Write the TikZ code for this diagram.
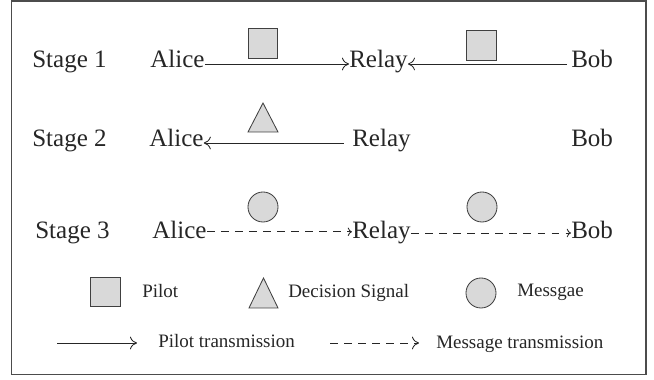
\documentclass[tikz,border=0pt]{standalone}
\usepackage{fontspec}
\setmainfont{Liberation Serif}
\usetikzlibrary{arrows.meta}
\begin{document}
\begin{tikzpicture}[x=0.025cm, y=-0.025cm,
    lbl/.style={anchor=base west, inner sep=0pt, text=black!85,
                font=\fontsize{17.8}{20}\selectfont},
    key/.style={anchor=base west, inner sep=0pt, text=black!85,
                font=\fontsize{13.5}{16}\selectfont},
    shp/.style={draw=black!75, fill=black!15, line width=0.6pt},
    link/.style={black!85, line width=0.6pt, -{To[length=5pt, width=9pt]}},
    msglink/.style={link, dash pattern=on 5.5pt off 4.5pt},
    smalltip/.style={-{To[length=3pt, width=6pt]}}]
      \useasboundingbox (0,0) rectangle (654,380);
      % Moldura
      \draw[black!70, line width=0.9pt] (11.5,1) rectangle (646,374.5);

      % Etapa 1
      \node[lbl] (stage1) at (32,68)  {Stage 1};
      \node[lbl] (alice1) at (150,68) {Alice};
      \node[lbl] (relay1) at (349,68) {Relay};
      \node[lbl] (bob1)   at (571,68) {Bob};
      \node[shp, minimum size=0.73cm, inner sep=0pt] (pil1) at (263,43.5) {};
      \node[shp, minimum size=0.73cm, inner sep=0pt] (pil2) at (481.5,45.5) {};
      \draw[link] ([yshift=0.1cm]alice1.base east) -- ([yshift=0.1cm]relay1.base west);
      \draw[link] ([xshift=-0.1cm, yshift=0.1cm]bob1.base west) -- ([yshift=0.1cm]relay1.base east);

      % Etapa 2
      \node[lbl] (stage2) at (32,147)  {Stage 2};
      \node[lbl] (alice2) at (149,147) {Alice};
      \node[lbl] (relay2) at (352,147) {Relay};
      \node[lbl] (bob2)   at (571,147) {Bob};
      \draw[shp] (248,132) -- (263,103) -- (278,132) -- cycle;
      \draw[link] ([xshift=-0.2cm, yshift=0.1cm]relay2.base west) -- ([yshift=0.1cm]alice2.base east);

      % Etapa 3
      \node[lbl] (stage3) at (35,239)  {Stage 3};
      \node[lbl] (alice3) at (152,239) {Alice};
      \node[lbl] (relay3) at (352,239) {Relay};
      \node[lbl] (bob3)   at (571,239) {Bob};
      \node[shp, circle, minimum size=0.75cm, inner sep=0pt] (msg1) at (263,207) {};
      \node[shp, circle, minimum size=0.75cm, inner sep=0pt] (msg2) at (482,207) {};
      \draw[msglink, smalltip] ([yshift=0.18cm]alice3.base east) -- ([yshift=0.18cm]relay3.base west);
      \draw[msglink, smalltip] ([yshift=0.15cm]relay3.base east) -- ([yshift=0.15cm]bob3.base west);

      % Legenda
      \node[shp, minimum size=0.74cm, inner sep=0pt] (keypil) at (105.5,292) {};
      \node[key] (pilot) at (142,298) {Pilot};
      \draw[shp] (249,308) -- (263.5,278) -- (278,308) -- cycle;
      \node[key] (decision) at (288,298) {Decision Signal};
      \node[shp, circle, minimum size=0.75cm, inner sep=0pt] (keymsg) at (481,293) {};
      \node[key] (message) at (517,297) {Messgae};

      \coordinate (pilA) at (57,343);
      \coordinate (pilB) at (137,343);
      \draw[link] (pilA) -- (pilB);
      \node[key] (piltx) at (158,348) {Pilot transmission};
      \coordinate (msgA) at (330,343);
      \coordinate (msgB) at (419,343);
      \draw[msglink] (msgA) -- (msgB);
      \node[key] (msgtx) at (436,349) {Message transmission};
\end{tikzpicture}
\end{document}
